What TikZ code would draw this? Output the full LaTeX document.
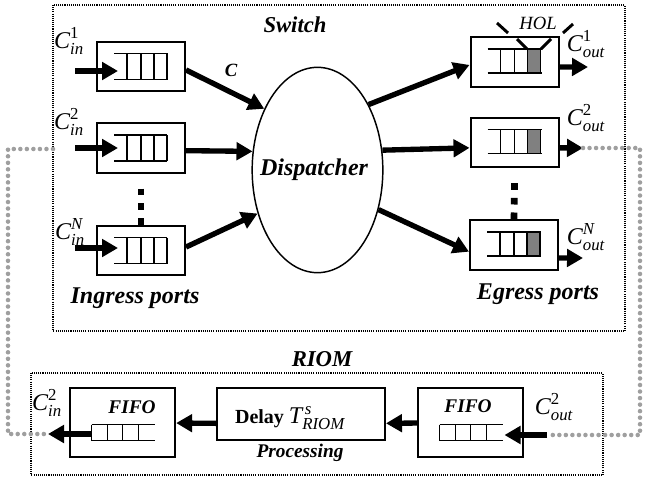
\documentclass[tikz,border=0pt]{standalone}
\usepackage{fontspec}
\setmainfont{Liberation Serif}
\usepackage{amsmath}
\usetikzlibrary{arrows.meta,shapes.geometric,calc}

\tikzset{every picture/.style={line width=0.75pt}}
\tikzset{
  portbox/.style={draw, line width=1.5pt, minimum width=66pt, minimum height=37pt, inner sep=0pt},
  fifobox/.style={draw, line width=1.5pt, minimum width=79pt, minimum height=52pt, inner sep=0pt},
  dispnode/.style={draw, ellipse, line width=1.1pt, minimum width=98pt, minimum height=154pt, inner sep=0pt},
  frame/.style={draw, line width=0.8pt, dash pattern=on 0.8pt off 0.8pt},
  qline/.style={line width=1.1pt},
  fat/.style={line width=4pt, -{Triangle[length=12pt,width=13pt]}},
  holtick/.style={line width=2.2pt},
  vdots/.style={line width=5pt, dash pattern=on 5pt off 6pt},
  graydots/.style={draw=gray!75, line width=3.4pt, line cap=round, dash pattern=on 0pt off 4.9pt},
  lab/.style={inner sep=0pt, font=\fontsize{18}{20}\selectfont},
  bi/.style={inner sep=0pt, font=\fontsize{#1}{#1}\selectfont\bfseries\itshape},
}

\begin{document}
\begin{tikzpicture}[x=0.75pt,y=0.75pt,yscale=-1,xscale=1]
\useasboundingbox (0,0) rectangle (645,478);

%Gray loop corners
\coordinate (go1) at (640,148);
\coordinate (go2) at (640,435);
\coordinate (gi1) at (8,149);
\coordinate (gi2) at (8,434);
\coordinate (swl) at (53,149);

%Frames
\draw[frame] (53,5) rectangle (625,331);
\draw[frame] (31,373) rectangle (603,475);

%Ingress ports
\node[portbox] (in1) at (141,66.5) {};
\node[portbox] (in2) at (141,148) {};
\node[portbox] (inN) at (141,250.5) {};
%Egress ports
\node[portbox] (eg1) at (514.5,62) {};
\node[portbox] (eg2) at (514.5,142.5) {};
\node[portbox] (egN) at (514,245) {};
%Dispatcher
\node[dispnode] (disp) at (317.5,170) {};
\node[bi=18] (disptxt) at (314,170) {Dispatcher};

%Ingress queues
\foreach \q in {in1,in2,inN}{
  \draw[qline] ($(\q)+(-27,-13)$) -- ++(53,0) ($(\q)+(-27,13)$) -- ++(53,0);
  \foreach \dx in {-14,0,13,26} \draw[qline] ($(\q)+(\dx,-13)$) -- ++(0,26);
}
%Egress queues with HOL cell
\foreach \q in {eg1,eg2,egN}{
  \fill[gray] ($(\q)+(13,-13)$) rectangle ($(\q)+(26,11)$);
  \draw[qline] ($(\q)+(-27,-13)$) -- ++(54,0) ($(\q)+(-27,11)$) -- ++(54,0);
  \foreach \dx in {-14,0,13,26} \draw[qline] ($(\q)+(\dx,-13)$) -- ++(0,24);
}

%HOL marks
\draw[holtick] ($(eg1)+(-17.5,-39)$) -- ($(eg1)+(-6.5,-29)$);
\draw[holtick] ($(eg1)+(58.5,-38)$) -- ($(eg1)+(48.5,-29)$);
\draw[holtick] ($(eg1)+(2.5,-23)$) -- ($(eg1)+(12.5,-13)$);
\draw[holtick] ($(eg1)+(36.5,-23)$) -- ($(eg1)+(26.5,-13)$);
\node[inner sep=0pt, font=\fontsize{14}{14}\selectfont\itshape] (hol) at (538,23) {HOL};

%Vertical dots
\draw[vdots] ($(in2.south)+(0,15)$) -- (inN.north);
\draw[vdots] ($(eg2.south)+(0,15)$) -- (egN.north);

%Input arrows
\coordinate (a1) at (75,71);
\coordinate (a2) at (75,148);
\coordinate (aN) at (75,248);
\draw[fat] (a1) -- ($(in1)+(-23,4.5)$);
\draw[fat] (a2) -- ($(in2)+(-23,0)$);
\draw[fat] (aN) -- ($(inN)+(-23,-2.5)$);

%Ingress to dispatcher
\draw[fat] ([yshift=2.6pt]in1.east) -- (disp.131);
\draw[fat] ([yshift=2pt]in2.east) -- (disp.164);
\draw[fat] ([yshift=-2.6pt]inN.east) -- (disp.216);
\node[bi=14] (clab) at (231,70) {C};

%Dispatcher to egress
\draw[fat] (disp.52) -- ([yshift=2.2pt]eg1.west);
\draw[fat] (disp.17) -- ([yshift=4pt]eg2.west);
\draw[fat] (disp.-33) -- ([yshift=5pt]egN.west);

%Output arrows
\coordinate (o1) at (588,67);
\coordinate (o2) at (583,148);
\coordinate (oN) at (583,258);
\draw[fat] ([yshift=3.7pt]eg1.east) -- (o1);
\draw[fat] ([yshift=4pt]eg2.east) -- (o2);
\draw[fat] ([yshift=9.7pt]egN.east) -- (oN);

%Port labels
\node[lab] (cin1) at (69,41) {$\textit{C}^{\text{1}}_{\textit{in}}$};
\node[lab] (cin2) at (69,122) {$\textit{C}^{\text{2}}_{\textit{in}}$};
\node[lab] (cinN) at (70,232) {$\textit{C}^{\textit{N}}_{\textit{in}}$};
\node[lab] (cout1) at (586,44) {$\textit{C}^{\text{1}}_{\textit{out}}$};
\node[lab] (cout2) at (586,118) {$\textit{C}^{\text{2}}_{\textit{out}}$};
\node[lab] (coutN) at (586,237) {$\textit{C}^{\textit{N}}_{\textit{out}}$};

\node[bi=17] (swlab) at (295,25) {Switch};
\node[bi=18] (inlab) at (135,298) {Ingress ports};
\node[bi=18] (eglab) at (538,294) {Egress ports};

%RIOM
\node[bi=17] (riomlab) at (322,359) {RIOM};
\node[fifobox] (fifoL) at (122.5,422.5) {};
\node[fifobox] (fifoR) at (470.5,422.5) {};
\node[portbox, minimum width=126pt, minimum height=39pt] (delay) at (301,414) {};
\node[inner sep=0pt] (delaytxt) at (290,418) {\fontsize{15}{16}\selectfont\bfseries Delay\ \fontsize{18}{19}\selectfont\mdseries$\textit{T}^{\,\textit{s}}_{\textit{RIOM}}$};
\node[bi=14.5] (proclab) at (300,453) {Processing};
\node[bi=14.5] (fifoLlab) at (132,407) {FIFO};
\node[bi=14.5] (fifoRlab) at (468,406) {FIFO};

%FIFO queues
\foreach \q in {fifoL,fifoR}{
  \draw[qline] ($(\q)+(-31,2)$) -- ++(63,0) ($(\q)+(-31,18)$) -- ++(63,0);
  \foreach \dx in {-31,-15,0,16} \draw[qline] ($(\q)+(\dx,2)$) -- ++(0,16);
}

%RIOM arrows
\coordinate (rin) at (547,435);
\coordinate (rout) at (48,434);
\draw[fat] ([yshift=7pt]delay.west) -- ([yshift=0.4pt]fifoL.east);
\draw[fat] ([yshift=0.4pt]fifoR.west) -- ([yshift=7pt]delay.east);
\draw[fat] (rin) -- ($(fifoR)+(34,12.5)$);
\draw[fat] ($(fifoL)+(-31,11.5)$) -- (rout);

\node[lab] (cin2b) at (47,403) {$\textit{C}^{\text{2}}_{\textit{in}}$};
\node[lab] (cout2b) at (554,407) {$\textit{C}^{\text{2}}_{\textit{out}}$};

%Gray loop
\draw[graydots] (o2) -- (go1) -- (go2) -- (rin);
\draw[graydots] (swl) -- (gi1) -- (gi2) -- (rout);
\end{tikzpicture}
\end{document}
